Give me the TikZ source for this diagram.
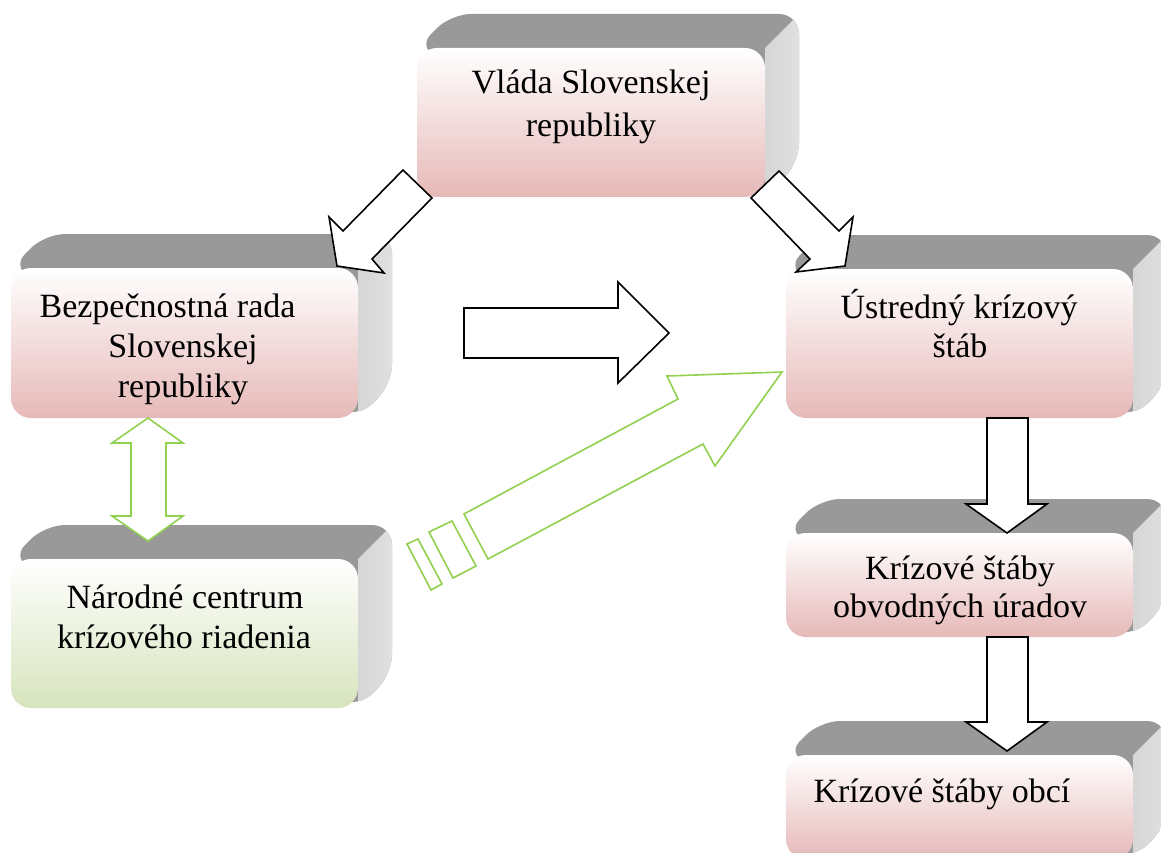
\documentclass[tikz,border=0pt]{standalone}
\usepackage{fontspec}
\setmainfont{Liberation Serif}
\definecolor{pinkB}{HTML}{E6B9B8}
\definecolor{greenB}{HTML}{D7E4BD}
\definecolor{topgray}{HTML}{999999}
\definecolor{sideA}{HTML}{D6D6D6}
\definecolor{sideB}{HTML}{E8E8E8}
\definecolor{lgreen}{HTML}{92D050}
\tikzset{
  front/.style={rectangle, rounded corners=20pt, inner sep=0pt, draw=none, top color=white},
  lbl/.style={anchor=base, inner sep=0pt, font=\fontsize{34}{41}\selectfont},
  barrow/.style={draw=black, fill=white, line width=1.6pt, line join=miter},
  garrow/.style={draw=lgreen, fill=white, line width=1.6pt, line join=miter}
}
\newcommand\slab[6]{%
  \pgfmathsetmacro\slabw{#4-#2}%
  \pgfmathsetmacro\slabh{#5-#3}%
  \begin{scope}
    \clip[rounded corners=20pt] (#2,#3) -- (#2+34,#3-34) -- (#4+34,#3-34) -- (#4+34,#5-34) -- (#4,#5) -- cycle;
    \fill[topgray] (#2-50,#3-60) rectangle (#4+60,#5+20);
    \shade[left color=sideA, right color=sideB] (#4,#3) -- (#4+34,#3-34) -- (#4+60,#3-34) -- (#4+60,#5+20) -- (#4,#5+20) -- cycle;
  \end{scope}
  \node[front, minimum width=\slabw pt, minimum height=\slabh pt, bottom color=#6] (#1) at ({(#2+#4)/2},{(#3+#5)/2}) {};
}
\begin{document}
\begin{tikzpicture}[x=1pt,y=-1pt]
\useasboundingbox (0,0) rectangle (1161,853);
\clip (0,0) rectangle (1161,853);
\fill[white] (0,0) rectangle (1161,853);

\slab{vlada}{417}{48}{765}{197}{pinkB}
\slab{bezp}{11}{268}{358}{418}{pinkB}
\slab{ustr}{786}{269}{1133}{418}{pinkB}
\slab{narod}{11}{559}{358}{708}{greenB}
\slab{obvod}{786}{533}{1133}{637}{pinkB}
\slab{obce}{786}{755}{1133}{859}{pinkB}

\node[lbl] (vlada1) at (591,94) {Vláda Slovenskej};
\node[lbl] (vlada2) at (591,137) {republiky};
\node[lbl] (bezp1) at (167.5,317) {Bezpečnostná rada};
\node[lbl] (bezp2) at (183,357) {Slovenskej};
\node[lbl] (bezp3) at (183,397) {republiky};
\node[lbl] (ustr1) at (959,318) {Ústredný krízový};
\node[lbl] (ustr2) at (960,357) {štáb};
\node[lbl] (narod1) at (185,608) {Národné centrum};
\node[lbl] (narod2) at (184,648) {krízového riadenia};
\node[lbl] (obvod1) at (960,579) {Krízové štáby};
\node[lbl] (obvod2) at (960,617) {obvodných úradov};
\node[lbl] (obce1) at (942,802) {Krízové štáby obcí};

% black block arrows
\draw[barrow] (403,170) -- (432,198) -- (372,259) -- (384,273) -- (337,266) -- (329,217) -- (343,231) -- cycle;
\draw[barrow] (779,171) -- (839,231) -- (853,217) -- (845,266) -- (796,272) -- (810,259) -- (751,198) -- cycle;
\draw[barrow] (464,308) -- (618,308) -- (618,282) -- (669,333) -- (618,383) -- (618,358) -- (464,358) -- cycle;
\draw[barrow] (987,418) -- (1028,418) -- (1028,504) -- (1047,504) -- (1007,533) -- (966,504) -- (987,504) -- cycle;
\draw[barrow] (987,637) -- (1028,637) -- (1028,722) -- (1047,722) -- (1007,751) -- (966,722) -- (987,722) -- cycle;

% green arrows
\draw[garrow] (148,418) -- (183,443) -- (166,443) -- (166,516) -- (183,516) -- (148,541) -- (112,516) -- (131,516) -- (131,443) -- (112,443) -- cycle;
\draw[garrow] (782,372) -- (715,466) -- (703,444) -- (488,559) -- (464,514) -- (678,399) -- (667,376) -- cycle;
\draw[garrow] (429,532) -- (452,521) -- (476,566) -- (453,578) -- cycle;
\draw[garrow] (407,544) -- (418,539) -- (442,584) -- (431,590) -- cycle;
\end{tikzpicture}
\end{document}
